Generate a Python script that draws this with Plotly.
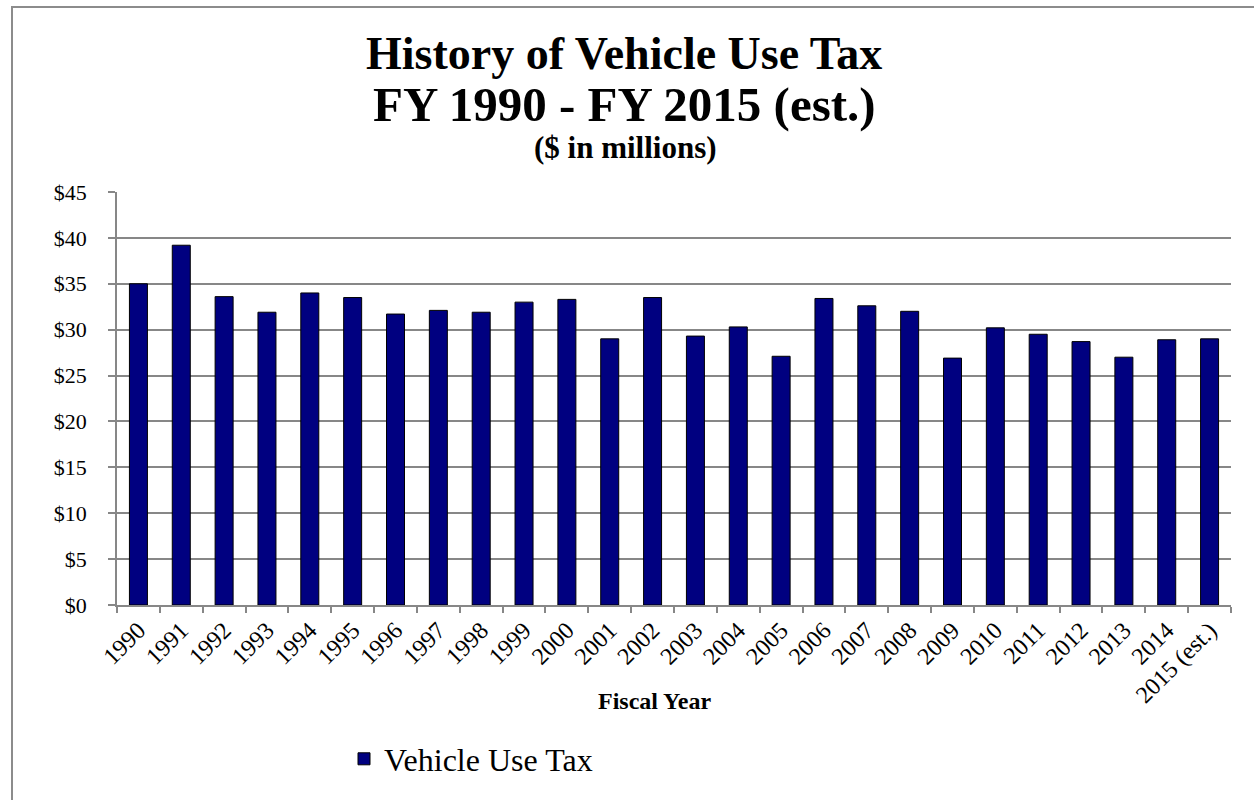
import plotly.graph_objects as go

# Fiscal years and vehicle use tax collections ($ millions)
years = ["1990", "1991", "1992", "1993", "1994", "1995", "1996", "1997", "1998",
         "1999", "2000", "2001", "2002", "2003", "2004", "2005", "2006", "2007",
         "2008", "2009", "2010", "2011", "2012", "2013", "2014", "2015 (est.)"]
revenue = [35.0, 39.2, 33.6, 31.9, 34.0, 33.5, 31.7, 32.1, 31.9,
           33.0, 33.3, 29.0, 33.5, 29.3, 30.3, 27.1, 33.4, 32.6,
           32.0, 26.9, 30.2, 29.5, 28.7, 27.0, 28.9, 29.0]
y_ticks = [0, 5, 10, 15, 20, 25, 30, 35, 40, 45]
y_tick_labels = ["$" + str(v) for v in y_ticks]

W, H = 1254, 800
L, R, T, B = 117, 23, 192, 195
pw, ph = W - L - R, H - T - B

def px_x(x):
    return (x - L) / pw

def px_y(y):
    return (H - B - y) / ph

SERIF = "Liberation Serif, Times New Roman, serif"
GRID = "#878787"

fig = go.Figure()
fig.add_trace(go.Bar(
    x=years, y=revenue, name="Vehicle Use Tax",
    marker=dict(color="#000080", line=dict(color="#000000", width=1)),
))

annotations = [
    dict(text="<b>History of Vehicle Use Tax</b>", x=px_x(624), y=px_y(53),
         font=dict(size=46)),
    dict(text="<b>FY 1990 - FY 2015 (est.)</b>", x=px_x(624), y=px_y(104),
         font=dict(size=49)),
    dict(text="<b>($ in millions)</b>", x=px_x(625), y=px_y(147),
         font=dict(size=31)),
    dict(text="<b>Fiscal Year</b>", x=px_x(654), y=px_y(701),
         font=dict(size=24)),
]
for a in annotations:
    a.update(xref="paper", yref="paper", xanchor="center", yanchor="middle",
             showarrow=False)
    a["font"].update(family=SERIF, color="#000000")

fig.update_layout(
    width=W, height=H,
    margin=dict(l=L, r=R, t=T, b=B, autoexpand=False),
    paper_bgcolor="white", plot_bgcolor="white",
    font=dict(family=SERIF, color="#000000", size=20),
    bargap=0.58,
    showlegend=True,
    legend=dict(orientation="h", x=px_x(471), y=px_y(759),
                xanchor="center", yanchor="middle",
                font=dict(size=32, family=SERIF), bgcolor="rgba(0,0,0,0)"),
    annotations=annotations,
    shapes=[dict(type="rect", xref="paper", yref="paper",
                 x0=px_x(12), x1=px_x(1262), y0=px_y(806), y1=px_y(7),
                 line=dict(color="#8c8c8c", width=2), layer="below")],
)
fig.update_xaxes(
    type="category", showgrid=False,
    showline=True, linecolor=GRID, linewidth=1.5,
    ticks="outside", ticklen=6, tickcolor=GRID, tickwidth=1.5,
    tickson="boundaries", tickangle=-45,
    tickfont=dict(size=24, family=SERIF, color="#000000"),
)
fig.update_yaxes(
    range=[0, 45], tickvals=y_ticks, ticktext=y_tick_labels,
    showgrid=True, gridcolor=GRID, gridwidth=1.5,
    showline=True, linecolor=GRID, linewidth=1.5,
    ticks="outside", ticklen=7, tickcolor=GRID, tickwidth=1.5,
    ticklabelstandoff=17,
    zeroline=False,
    tickfont=dict(size=22, family=SERIF, color="#000000"),
)

fig.write_html("out.html")
